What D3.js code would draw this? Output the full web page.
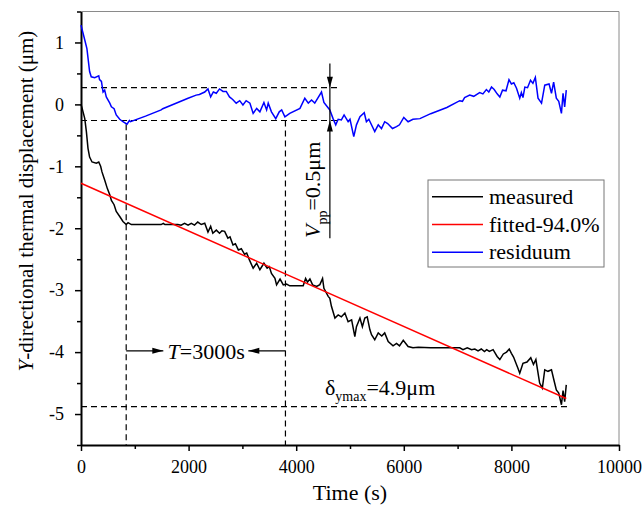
<!DOCTYPE html>
<html>
<head>
<meta charset="utf-8">
<script src="https://cdn.jsdelivr.net/npm/d3@7"></script>
<style>
  body { margin: 0; background: #fff; }
</style>
</head>
<body>
<div id="chart"></div>
<script>
// Y-directional thermal displacement vs time: measured, linear fit, residuum

/* ---------- data ---------- */
const xTicks = [0, 2000, 4000, 6000, 8000, 10000];
const yTicks = [-5, -4, -3, -2, -1, 0, 1];

// [time (s), displacement (µm)]
const measured = [
  [0,0],[20,-0.06],[70,-0.23],[100,-0.44],[130,-0.71],[160,-0.85],[205,-0.93],[285,-0.95],
  [330,-0.93],[365,-1.0],[390,-1.09],[440,-1.22],[490,-1.36],[535,-1.46],[565,-1.55],[615,-1.62],
  [655,-1.73],[720,-1.81],[780,-1.89],[840,-1.94],[875,-1.91],[935,-1.94],[1200,-1.94],[1490,-1.94],
  [1530,-1.92],[1560,-1.94],[1800,-1.94],[1860,-1.95],[1925,-1.92],[1990,-1.95],[2050,-1.92],
  [2110,-1.95],[2170,-1.90],[2235,-1.94],[2300,-1.92],[2360,-2.06],[2410,-1.97],[2450,-2.08],
  [2515,-2.03],[2575,-2.08],[2620,-2.04],[2670,-2.05],[2730,-2.16],[2770,-2.14],[2825,-2.27],
  [2870,-2.25],[2925,-2.35],[2980,-2.33],[3040,-2.42],[3080,-2.40],[3130,-2.51],[3200,-2.645],
  [3265,-2.565],[3325,-2.67],[3400,-2.565],[3460,-2.645],[3500,-2.62],[3540,-2.73],[3605,-2.81],
  [3635,-2.915],[3700,-2.82],[3760,-2.915],[3820,-2.90],[3880,-2.93],[4130,-2.93],[4175,-2.81],
  [4210,-2.87],[4255,-2.82],[4305,-2.915],[4380,-2.94],[4440,-2.91],[4490,-2.81],[4515,-2.97],
  [4595,-3.10],[4625,-3.13],[4655,-3.26],[4720,-3.45],[4780,-3.40],[4840,-3.43],[4905,-3.37],
  [4965,-3.51],[5030,-3.48],[5090,-3.75],[5120,-3.59],[5185,-3.45],[5230,-3.59],[5275,-3.45],
  [5320,-3.43],[5370,-3.64],[5400,-3.72],[5460,-3.80],[5525,-3.69],[5590,-3.74],[5645,-3.69],
  [5710,-3.83],[5800,-3.90],[5865,-3.86],[5920,-3.90],[5990,-3.81],[6080,-3.91],[6170,-3.93],
  [6270,-3.92],[6500,-3.93],[7040,-3.93],[7100,-3.96],[7180,-3.93],[7260,-3.96],[7320,-3.95],
  [7380,-3.98],[7440,-3.95],[7500,-3.99],[7540,-3.96],[7590,-3.99],[7660,-3.96],[7735,-4.07],
  [7785,-4.12],[7850,-4.03],[7910,-4.0],[7960,-3.95],[8000,-4.02],[8040,-4.08],[8125,-4.27],
  [8155,-4.34],[8215,-4.18],[8290,-4.16],[8360,-4.09],[8410,-4.2],[8455,-4.12],[8525,-4.50],
  [8575,-4.58],[8620,-4.285],[8680,-4.31],[8745,-4.285],[8790,-4.45],[8835,-4.61],[8880,-4.66],
  [8930,-4.85],[8960,-4.62],[8990,-4.80],[9020,-4.53]
];

const fitted = [[0,-1.274],[9020,-4.75]];

const residuum = [
  [0,1.28],[70,1.04],[110,0.90],[160,0.53],[190,0.445],[255,0.43],[330,0.46],[345,0.40],
  [380,0.37],[410,0.20],[440,0.23],[470,0.12],[535,0.02],[565,-0.04],[615,-0.07],[655,-0.17],
  [720,-0.24],[780,-0.28],[855,-0.32],[900,-0.26],[920,-0.28],[1200,-0.19],[1490,-0.09],
  [1520,-0.07],[1800,0.03],[1990,0.10],[2140,0.15],[2200,0.16],[2300,0.20],[2360,0.25],
  [2410,0.12],[2460,0.20],[2515,0.18],[2575,0.25],[2640,0.21],[2700,0.21],[2760,0.12],
  [2820,0.08],[2885,0.02],[2950,0.06],[3010,-0.01],[3070,0.06],[3140,0.02],[3200,-0.145],
  [3265,-0.065],[3325,-0.12],[3400,0.03],[3450,-0.09],[3480,0.02],[3540,-0.12],[3620,-0.23],
  [3685,-0.12],[3730,-0.09],[3790,-0.20],[3880,-0.145],[4070,-0.065],[4160,0.10],[4225,0.02],
  [4285,0.07],[4345,0.02],[4470,0.20],[4515,0.03],[4625,-0.09],[4685,-0.23],[4735,-0.33],
  [4780,-0.24],[4840,-0.25],[4890,-0.17],[4965,-0.28],[5000,-0.24],[5070,-0.52],[5120,-0.33],
  [5185,-0.20],[5265,-0.135],[5305,-0.28],[5350,-0.24],[5460,-0.44],[5525,-0.33],[5585,-0.39],
  [5645,-0.28],[5700,-0.31],[5790,-0.39],[5865,-0.36],[5920,-0.33],[6000,-0.21],[6080,-0.28],
  [6170,-0.24],[6300,-0.23],[6500,-0.15],[6800,-0.05],[7040,0.06],[7090,0.05],[7130,0.11],
  [7225,0.15],[7300,0.13],[7410,0.19],[7470,0.17],[7535,0.24],[7580,0.20],[7630,0.28],
  [7680,0.24],[7735,0.17],[7785,0.12],[7835,0.23],[7900,0.22],[7955,0.40],[8000,0.33],
  [8045,0.35],[8095,0.26],[8155,0.10],[8185,0.19],[8215,0.11],[8250,0.28],[8300,0.27],
  [8355,0.39],[8400,0.34],[8445,0.435],[8495,0.10],[8560,0.02],[8620,0.31],[8700,0.33],
  [8745,0.18],[8785,0.36],[8835,0.10],[8880,0.05],[8930,-0.145],[8960,0.18],[8990,-0.04],
  [9020,0.23]
];

// annotation values
const vppLevels   = [0.27, -0.26];    // peak-to-peak band of the residuum
const vppTime     = 4626;             // where the V_pp arrow stands
const periodTimes = [840, 3800];      // T = 3000 s
const periodTops  = [-0.32, -0.26];
const deltaLevel  = -4.88;            // delta_ymax

/* ---------- layout ---------- */
const W = 644, H = 513;
const plotL = 81, plotR = 619, plotT = 11.5, plotB = 445;
const FONT = '"Liberation Serif", serif';

const x = d3.scaleLinear().domain([0, 10000]).range([plotL, plotR]);
const y = d3.scaleLinear().domain([-5.5, 1.5]).range([plotB, plotT]);

const svg = d3.select("#chart").append("svg")
  .attr("width", W).attr("height", H)
  .attr("font-family", FONT);

// grey frame top / right
svg.append("path")
  .attr("d", `M${plotL},${plotT}H${plotR}V${plotB}`)
  .attr("fill", "none").attr("stroke", "#8a8a8a").attr("stroke-width", 1);

// minor ticks
svg.append("g")
  .attr("transform", `translate(0,${plotB})`)
  .call(d3.axisBottom(x).tickValues(d3.range(1000, 10000, 2000)).tickSize(4).tickFormat(""))
  .call(g => g.select(".domain").remove())
  .selectAll("line").attr("stroke-width", 1.5);
svg.append("g")
  .attr("transform", `translate(${plotL},0)`)
  .call(d3.axisLeft(y).tickValues(d3.range(-5.5, 1.6, 1)).tickSize(4).tickFormat(""))
  .call(g => g.select(".domain").remove())
  .selectAll("line").attr("stroke-width", 1.5);

const styleAxis = g => {
  g.attr("font-family", FONT).attr("font-size", 18);
  g.select(".domain").attr("stroke-width", 2);
  g.selectAll(".tick line").attr("stroke-width", 1.5);
  g.selectAll("text").attr("fill", "#000");
};

// X axis
svg.append("g")
  .attr("transform", `translate(0,${plotB})`)
  .call(d3.axisBottom(x).tickValues(xTicks).tickSize(6).tickSizeOuter(0).tickPadding(9).tickFormat(d => String(d)))
  .call(styleAxis);

// Y axis
svg.append("g")
  .attr("transform", `translate(${plotL},0)`)
  .call(d3.axisLeft(y).tickValues(yTicks).tickSize(6).tickSizeOuter(0).tickPadding(11).tickFormat(d => String(d)))
  .call(styleAxis);

// axis titles
svg.append("text")
  .attr("x", (plotL + plotR) / 2).attr("y", 500)
  .attr("text-anchor", "middle").attr("font-size", 22)
  .text("Time (s)");

const yt = svg.append("text")
  .attr("transform", "translate(33,201) rotate(-90)")
  .attr("text-anchor", "middle").attr("font-size", 21);
yt.append("tspan").attr("font-style", "italic").text("Y");
yt.append("tspan").text("-directional thermal displacement (μm)");

/* ---------- dashed guides ---------- */
const dash = g => g.attr("stroke", "#000").attr("stroke-width", 1.2)
  .attr("stroke-dasharray", "6,4").attr("fill", "none");

svg.append("g").selectAll("line.lvl").data(vppLevels).join("line")
  .attr("x1", x(0)).attr("x2", x(4780))
  .attr("y1", d => y(d)).attr("y2", d => y(d))
  .call(dash);

svg.append("g").selectAll("line.per").data(periodTimes).join("line")
  .attr("x1", d => x(d)).attr("x2", d => x(d))
  .attr("y1", (d, i) => y(periodTops[i])).attr("y2", y(-5.5))
  .call(dash);

svg.append("line")
  .attr("x1", x(0)).attr("x2", x(9050))
  .attr("y1", y(deltaLevel)).attr("y2", y(deltaLevel))
  .call(dash);

/* ---------- series ---------- */
const line = d3.line().x(d => x(d[0])).y(d => y(d[1]));

svg.append("path").datum(measured).attr("d", line)
  .attr("fill", "none").attr("stroke", "#000").attr("stroke-width", 1.5);
svg.append("path").datum(residuum).attr("d", line)
  .attr("fill", "none").attr("stroke", "#0000ff").attr("stroke-width", 1.5);
svg.append("path").datum(fitted).attr("d", line)
  .attr("fill", "none").attr("stroke", "#ff0000").attr("stroke-width", 1.5);

/* ---------- annotations ---------- */
// arrow head: tip at (tx,ty), pointing in direction (dx,dy)
function arrowHead(tx, ty, dx, dy, len = 11, hw = 3) {
  const bx = tx - dx * len, by = ty - dy * len;
  const px = -dy * hw, py = dx * hw;
  svg.append("path")
    .attr("d", `M${tx},${ty}L${bx + px},${by + py}L${bx - px},${by - py}Z`)
    .attr("fill", "#000");
}

// V_pp
const vx = x(vppTime);
svg.append("line")
  .attr("x1", vx).attr("x2", vx).attr("y1", y(0.66)).attr("y2", y(-2.16))
  .attr("stroke", "#000").attr("stroke-width", 1.2);
arrowHead(vx, y(vppLevels[0]), 0, 1);
arrowHead(vx, y(vppLevels[1]), 0, -1);

const vt = svg.append("text")
  .attr("transform", `translate(${vx - 10},238) rotate(-90)`)
  .attr("font-size", 22);
vt.append("tspan").attr("font-style", "italic").text("V");
vt.append("tspan").attr("font-size", 14).attr("dy", 7).text("pp");
vt.append("tspan").attr("dy", -7).text("=0.5μm");

// T = 3000 s
const tY = y(-3.98);
svg.append("line").attr("x1", x(periodTimes[0])).attr("x2", x(1530)).attr("y1", tY).attr("y2", tY)
  .attr("stroke", "#000").attr("stroke-width", 1.2);
arrowHead(x(1530), tY, 1, 0);
svg.append("line").attr("x1", x(periodTimes[1])).attr("x2", x(3110)).attr("y1", tY).attr("y2", tY)
  .attr("stroke", "#000").attr("stroke-width", 1.2);
arrowHead(x(3110), tY, -1, 0);

const tt = svg.append("text").attr("x", x(1610)).attr("y", tY + 8).attr("font-size", 22);
tt.append("tspan").attr("font-style", "italic").text("T");
tt.append("tspan").text("=3000s");

// delta_ymax
const dt = svg.append("text").attr("x", x(4535)).attr("y", 395).attr("font-size", 22);
dt.append("tspan").text("δ");
dt.append("tspan").attr("font-size", 14).attr("dy", 6).text("ymax");
dt.append("tspan").attr("dy", -6).text("=4.9μm");

/* ---------- legend ---------- */
const legend = [
  { label: "measured",      color: "#000" },
  { label: "fitted-94.0%",  color: "#ff0000" },
  { label: "residuum",      color: "#0000ff" }
];
const lg = svg.append("g").attr("transform", "translate(428,180)");
lg.append("rect").attr("width", 176).attr("height", 87)
  .attr("fill", "#fff").attr("stroke", "#777").attr("stroke-width", 1);
lg.selectAll("g.item").data(legend).join("g")
  .attr("transform", (d, i) => `translate(0,${16.7 + i * 27.8})`)
  .each(function(d) {
    const g = d3.select(this);
    g.append("line").attr("x1", 4).attr("x2", 55)
      .attr("stroke", d.color).attr("stroke-width", 1.5);
    g.append("text").attr("x", 61).attr("y", 7).attr("font-size", 22).text(d.label);
  });
</script>
</body>
</html>
